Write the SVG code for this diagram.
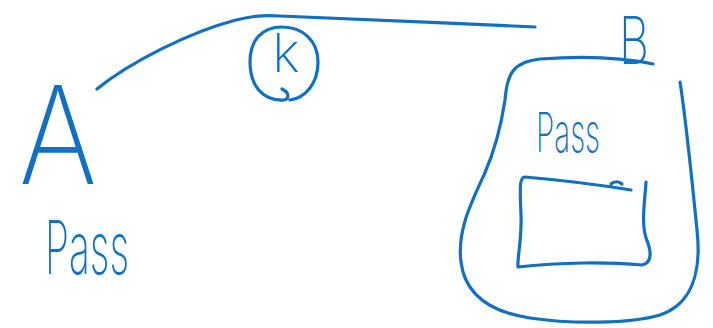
<svg xmlns="http://www.w3.org/2000/svg" width="713" height="328" viewBox="0 0 713 328">
  <style>
    .ink { fill: none; stroke: #1170c2; stroke-width: 3.2; stroke-linecap: round; stroke-linejoin: round; }
    .hand { fill: #1170c2; font-family: "Inter", "DejaVu Sans", "Liberation Sans", sans-serif; font-weight: 200; }
  </style>
  <rect width="713" height="328" fill="#ffffff"/>

  <!-- connector: from A over the clock to B -->
  <g id="connectors">
    <path class="ink" d="M97,89 C130,62 190,32 236,20 C252,16 262,15 280,16 C360,19 450,23 535,27"/>
  </g>

  <!-- node A with its Pass label -->
  <g id="node-a">
    <text class="hand" x="58" y="184" font-size="136" font-weight="100" text-anchor="middle" textLength="78" lengthAdjust="spacingAndGlyphs">A</text>
    <text class="hand" x="45" y="274" font-size="74" font-weight="200" textLength="84" lengthAdjust="spacingAndGlyphs">Pass</text>
  </g>

  <!-- clock on the connector -->
  <g id="node-k">
    <path class="ink" d="M282,89 C290,93 289,99 284,100 C262,101 250,85 250,62 C250,40 262,27 282,27 C303,27 318,41 318,62 C318,84 305,98 290,100"/>
    <text class="hand" x="286" y="72" font-size="54" font-weight="200" text-anchor="middle">k</text>
  </g>

  <!-- node B: rounded container with its label and inner box -->
  <g id="node-b">
    <text class="hand" x="634" y="64" font-size="66" font-weight="200" text-anchor="middle" textLength="30" lengthAdjust="spacingAndGlyphs">B</text>
    <path class="ink" d="M680,82 C686,120 692,180 697,230 C702,275 690,305 660,315 C630,324 570,324 530,318 C490,312 465,295 461,262 C457,232 470,205 484,175 C496,148 502,120 505,100 C507,75 512,62 540,59 C580,56 620,57 653,64"/>
    <text class="hand" x="536" y="152" font-size="55" font-weight="200" textLength="64" lengthAdjust="spacingAndGlyphs">Pass</text>
    <path class="ink" d="M631,190 C600,185 560,180 525,177 C519,177 520,190 521,215 C522,240 517,258 518,267 C560,262 610,262 642,265 C652,263 652,252 646,238 C641,222 645,200 646,182"/>
    <path class="ink" d="M611,184 C614,181 619,181 622,184"/>
  </g>
</svg>
